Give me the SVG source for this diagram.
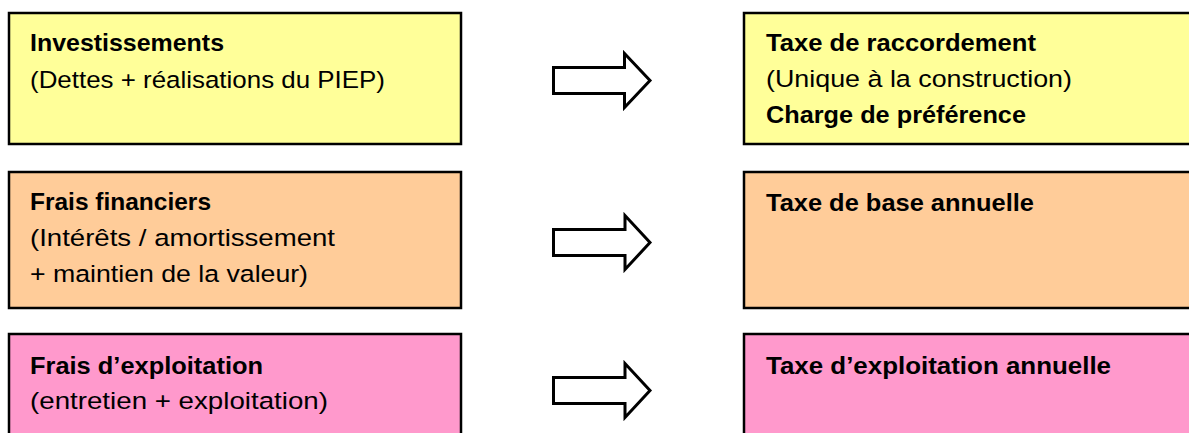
<svg xmlns="http://www.w3.org/2000/svg" width="1189" height="433" viewBox="0 0 1189 433">
<style>
.box{stroke:#000;stroke-width:2.5}
.y{fill:#FFFF99}
.o{fill:#FFCC99}
.p{fill:#FF99CC}
text{font-family:"Liberation Sans",Arial,sans-serif;font-size:24.5px;fill:#000}
.b{font-weight:bold}
.arrow{fill:#fff;stroke:#000;stroke-width:3;stroke-linejoin:miter}
</style>
<rect width="1189" height="433" fill="#fff"/>
<g id="investissements">
<rect class="box y" x="9" y="13" width="452" height="131"/>
<text class="b" x="30" y="51" textLength="194" lengthAdjust="spacingAndGlyphs">Investissements</text>
<text x="30" y="87.5" textLength="355" lengthAdjust="spacingAndGlyphs">(Dettes + réalisations du PIEP)</text>
</g>
<g id="taxe-raccordement">
<rect class="box y" x="744" y="13" width="460" height="131"/>
<text class="b" x="766" y="51" textLength="270" lengthAdjust="spacingAndGlyphs">Taxe de raccordement</text>
<text x="766" y="87" textLength="306" lengthAdjust="spacingAndGlyphs">(Unique à la construction)</text>
<text class="b" x="766" y="122.5" textLength="260" lengthAdjust="spacingAndGlyphs">Charge de préférence</text>
</g>
<g id="frais-financiers">
<rect class="box o" x="9" y="172" width="452" height="136"/>
<text class="b" x="30" y="210" textLength="181" lengthAdjust="spacingAndGlyphs">Frais financiers</text>
<text x="30" y="246" textLength="305" lengthAdjust="spacingAndGlyphs">(Intérêts / amortissement</text>
<text x="30" y="282" textLength="278" lengthAdjust="spacingAndGlyphs">+ maintien de la valeur)</text>
</g>
<g id="taxe-base">
<rect class="box o" x="744" y="172" width="460" height="136"/>
<text class="b" x="766" y="211" textLength="268" lengthAdjust="spacingAndGlyphs">Taxe de base annuelle</text>
</g>
<g id="frais-exploitation">
<rect class="box p" x="9" y="334" width="452" height="120"/>
<text class="b" x="30" y="373.5" textLength="233" lengthAdjust="spacingAndGlyphs">Frais d’exploitation</text>
<text x="30" y="409" textLength="298" lengthAdjust="spacingAndGlyphs">(entretien + exploitation)</text>
</g>
<g id="taxe-exploitation">
<rect class="box p" x="744" y="334" width="460" height="120"/>
<text class="b" x="766" y="373.5" textLength="345" lengthAdjust="spacingAndGlyphs">Taxe d’exploitation annuelle</text>
</g>
<g id="connectors">
<path class="arrow" d="M553.5,67.5 H624.5 V53.5 L650,80.5 L624.5,107.5 V93.5 H553.5 Z"/>
<path class="arrow" d="M553.5,229.5 H625 V215.5 L650,242.5 L625,269.5 V255.5 H553.5 Z"/>
<path class="arrow" d="M553.5,377.5 H625 V363.5 L650,390.5 L625,417.5 V403.5 H553.5 Z"/>
</g>
</svg>
